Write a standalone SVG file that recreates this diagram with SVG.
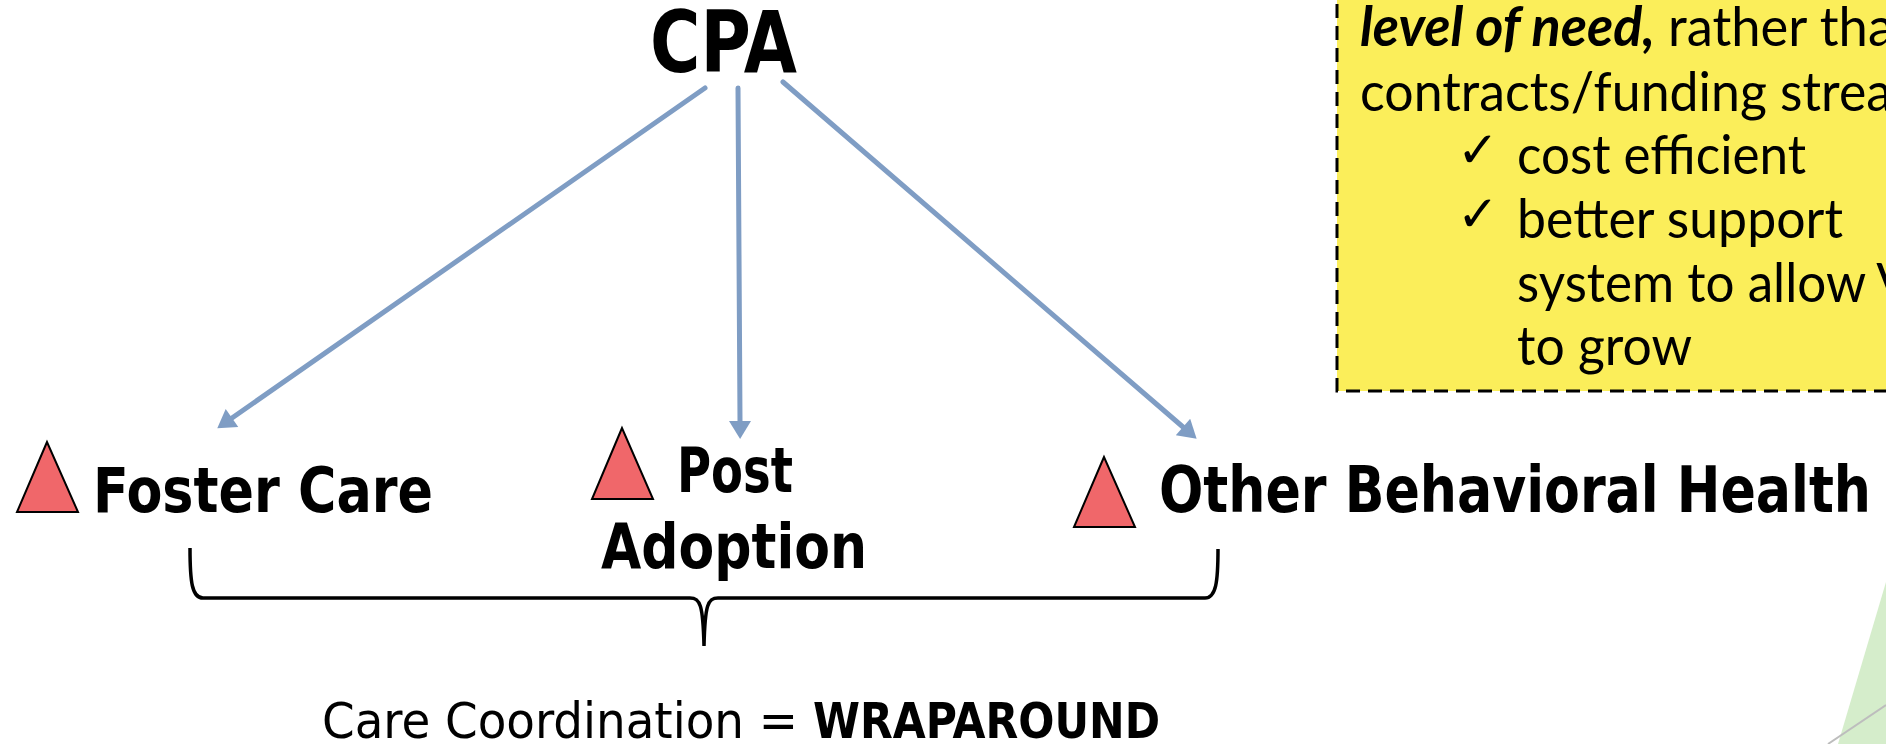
<svg xmlns="http://www.w3.org/2000/svg" width="1886" height="744" viewBox="0 0 1886 744">
<style>
.lbl{font-family:"DejaVu Sans Condensed","DejaVu Sans",sans-serif;font-weight:bold;fill:#000}
.reg{font-family:"DejaVu Sans Condensed","DejaVu Sans",sans-serif;fill:#000}
.box{font-family:Lato,"Open Sans",sans-serif;font-size:55px;fill:#000}
.chk{font-family:"DejaVu Sans",sans-serif;font-size:50px;font-weight:bold;fill:#000}
.tri{fill:#F0676A;stroke:#000;stroke-width:2;stroke-linejoin:miter}
.arr{stroke:#7F9DC4;stroke-width:5;stroke-linecap:round;fill:none;marker-end:url(#ah)}
</style>
<defs>
<marker id="ah" markerUnits="userSpaceOnUse" markerWidth="20" markerHeight="22" viewBox="0 0 18 22" refX="0" refY="11" orient="auto">
<path d="M0,0 L18,11 L0,22 z" fill="#7F9DC4"/>
</marker>
</defs>
<rect width="1886" height="744" fill="#fff"/>

<g id="decor">
<polygon points="1886,582 1838,744 1886,744" fill="#D5EDCB"/>
<line x1="1828" y1="744" x2="1886" y2="705" stroke="#BDBDBD" stroke-width="2"/>
</g>

<g id="note">
<rect x="1337" y="-20" width="620" height="411" fill="#FBEE5A" stroke="#000" stroke-width="3" stroke-dasharray="14 8"/>
<text class="box" x="1360" y="46" font-weight="bold" font-style="italic" textLength="295" lengthAdjust="spacingAndGlyphs">level of need,</text>
<text class="box" x="1668" y="46" textLength="226" lengthAdjust="spacingAndGlyphs">rather tha</text>
<text class="box" x="1360" y="111" textLength="532" lengthAdjust="spacingAndGlyphs">contracts/funding strea</text>
<text class="chk" x="1457" y="167">✓</text>
<text class="box" x="1517" y="174" textLength="289" lengthAdjust="spacingAndGlyphs">cost efficient</text>
<text class="chk" x="1457" y="231">✓</text>
<text class="box" x="1517" y="238" textLength="326" lengthAdjust="spacingAndGlyphs">better support</text>
<text class="box" x="1517" y="302" textLength="394" lengthAdjust="spacingAndGlyphs">system to allow V</text>
<text class="box" x="1517" y="365" textLength="175" lengthAdjust="spacingAndGlyphs">to grow</text>
</g>

<g id="cpa">
<text class="lbl" x="650" y="72" font-size="85" textLength="147" lengthAdjust="spacingAndGlyphs">CPA</text>
</g>

<g id="foster">
<polygon class="tri" points="47,442 17,512 78,512"/>
<text class="lbl" x="93" y="512" font-size="62" textLength="340" lengthAdjust="spacingAndGlyphs">Foster Care</text>
</g>

<g id="post">
<polygon class="tri" points="622,428 592,499 653,499"/>
<text class="lbl" x="677" y="492" font-size="62" textLength="116" lengthAdjust="spacingAndGlyphs">Post</text>
<text class="lbl" x="601" y="568" font-size="62" textLength="266" lengthAdjust="spacingAndGlyphs">Adoption</text>
</g>

<g id="other">
<polygon class="tri" points="1104,457 1074,527 1135,527"/>
<text class="lbl" x="1159" y="512" font-size="64" textLength="712" lengthAdjust="spacingAndGlyphs">Other Behavioral Health</text>
</g>

<g id="connectors">
<line class="arr" x1="705" y1="88" x2="232" y2="418"/>
<line class="arr" x1="738" y1="88" x2="740" y2="421"/>
<line class="arr" x1="783" y1="82" x2="1183" y2="427"/>
<path d="M190,548 C190,582 192,598 203,598 L690,598 C700,598 703,604 704,646 M1218,549 C1218,582 1216,598 1205,598 L718,598 C708,598 705,604 704,646" fill="none" stroke="#000" stroke-width="3.5" stroke-linejoin="round"/>
</g>

<g id="wrap">
<text class="reg" x="322" y="738" font-size="49" textLength="476" lengthAdjust="spacingAndGlyphs">Care Coordination =</text>
<text class="lbl" x="813" y="738" font-size="49" textLength="347" lengthAdjust="spacingAndGlyphs">WRAPAROUND</text>
</g>
</svg>
